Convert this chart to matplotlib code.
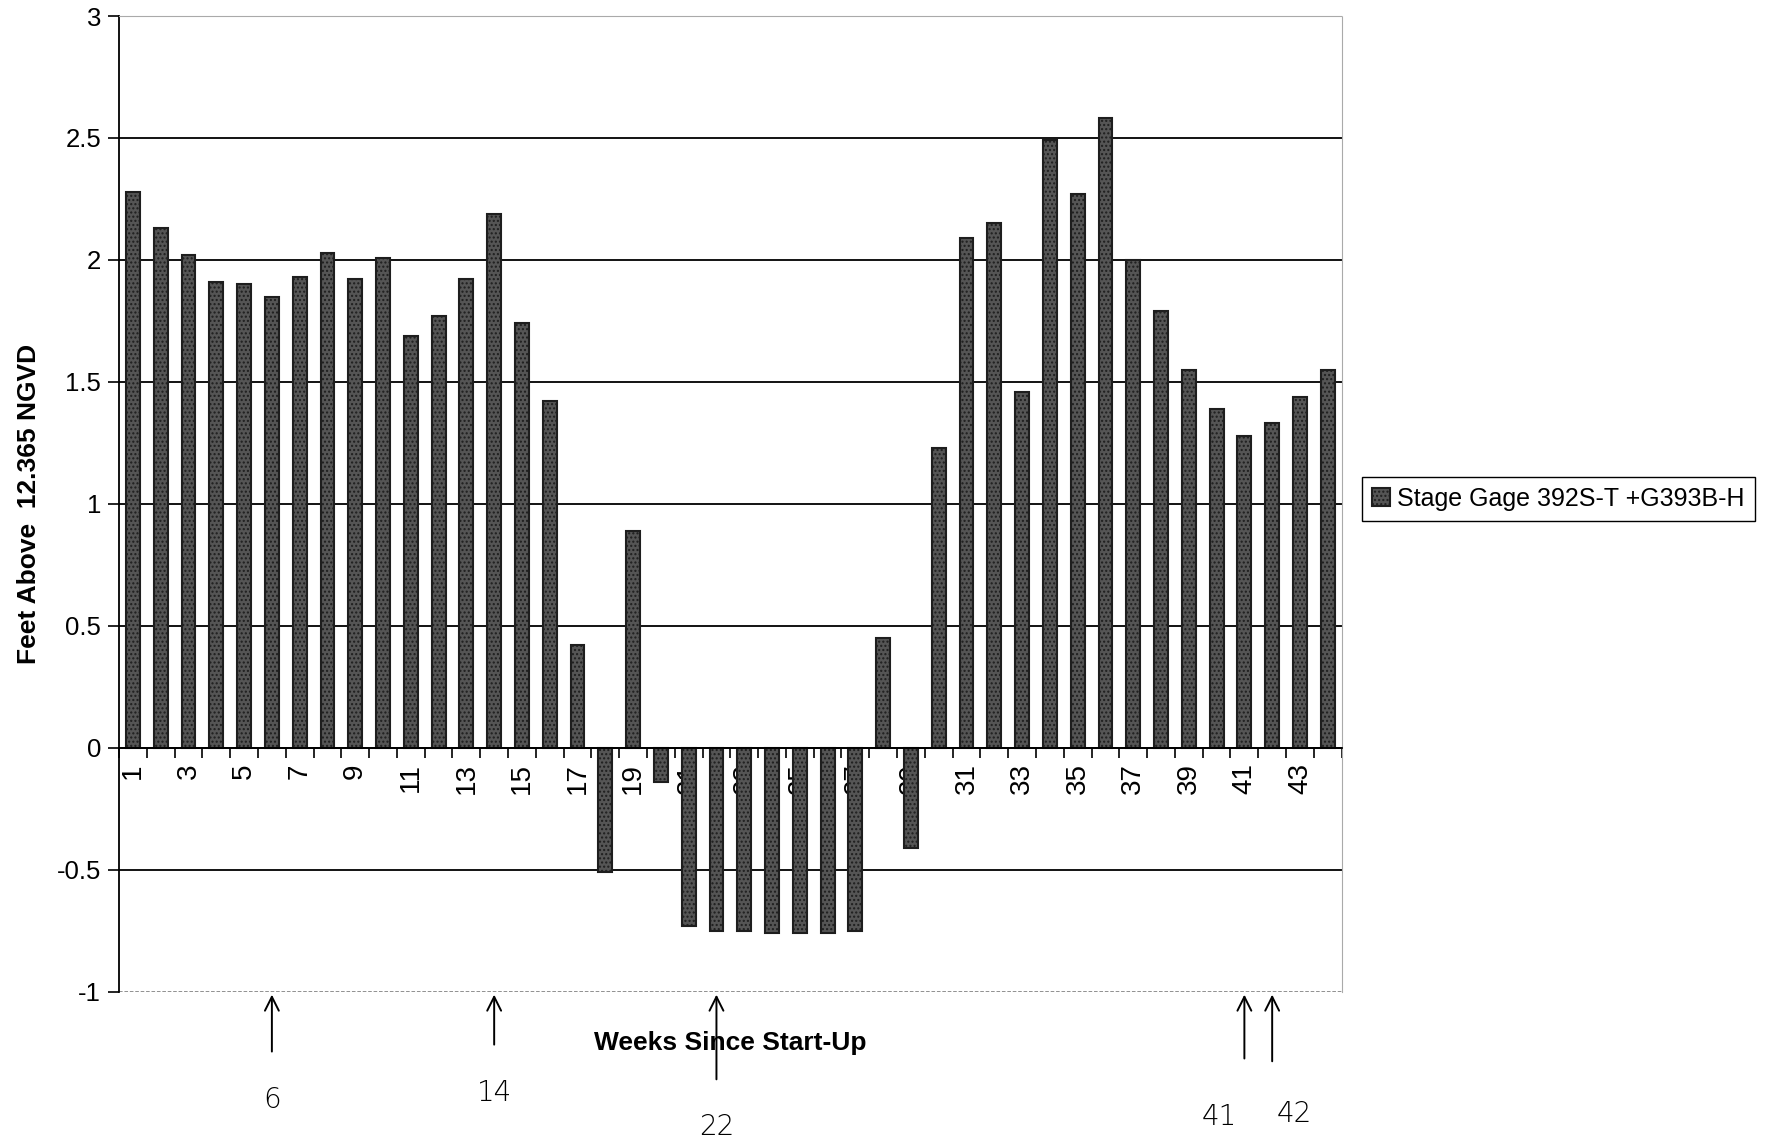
import numpy as np
import matplotlib
matplotlib.use("Agg")
import matplotlib.pyplot as plt

plt.rcParams['font.family'] = ['Liberation Sans', 'DejaVu Sans']

# ----
# Data
# ----
weeks = list(range(1, 45))
stage = [2.28, 2.13, 2.02, 1.91, 1.90, 1.85, 1.93, 2.03, 1.92, 2.01,
         1.69, 1.77, 1.92, 2.19, 1.74, 1.42, 0.42, -0.51, 0.89, -0.14,
         -0.73, -0.75, -0.75, -0.76, -0.76, -0.76, -0.75, 0.45, -0.41, 1.23,
         2.09, 2.15, 1.46, 2.49, 2.27, 2.58, 2.00, 1.79, 1.55, 1.39,
         1.28, 1.33, 1.44, 1.55]
series_name = "Stage Gage 392S-T +G393B-H"
y_ticks = [-1, -0.5, 0, 0.5, 1, 1.5, 2, 2.5, 3]
y_ticklabels = ["-1", "-0.5", "0", "0.5", "1", "1.5", "2", "2.5", "3"]
marked_weeks = [6, 14, 22, 41, 42]

# ------
# Figure
# ------
fig = plt.figure(figsize=(17.77, 11.44), dpi=100)
ax = fig.add_axes([0.067, 0.133, 0.688, 0.853])

ax.set_axisbelow(True)
bars = ax.bar(weeks, stage, width=0.5, color='#555555', edgecolor='#1e1e1e',
              linewidth=1.5, hatch='....', label=series_name, zorder=2)

ax.set_xlim(0.5, len(weeks) + 0.5)
ax.set_ylim(-1, 3)

# y axis
ax.set_yticks(y_ticks)
ax.set_yticklabels(y_ticklabels)
ax.tick_params(axis='y', direction='out', length=8, width=1.2, pad=5,
               labelsize=18.5, color='black')
ax.yaxis.grid(True, color='black', linewidth=1.3)
grid = ax.get_ygridlines()
grid[0].set_color('#888888')
grid[0].set_linestyle((0, (2, 1)))
grid[-1].set_color('#999999')
grid[-1].set_linestyle((0, (2, 1)))

# category axis crossing at zero
ax.spines['bottom'].set_position(('data', 0))
ax.spines['bottom'].set_linewidth(1.3)
ax.spines['left'].set_linewidth(1.3)
for side in ['top', 'right']:
    ax.spines[side].set_color('#aaaaaa')
    ax.spines[side].set_linestyle((0, (2, 1)))
ax.set_xticks(weeks)
ax.set_xticklabels([str(w) if w % 2 == 1 else "" for w in weeks],
                   rotation=90, fontsize=20)
ax.tick_params(axis='x', which='major', length=0, pad=11)
ax.set_xticks(np.arange(0.5, len(weeks) + 1, 1), minor=True)
ax.tick_params(axis='x', which='minor', direction='out', length=7, width=1.2)

ax.set_ylabel("Feet Above  12.365 NGVD", fontsize=19, fontweight='bold',
              labelpad=11)
ax.text(0.5, -0.04, "Weeks Since Start-Up", transform=ax.transAxes,
        ha='center', va='top', fontsize=19, fontweight='bold')

# hand-marked weeks below the plot
label_offsets = {6: (0, -68), 14: (0, -63), 22: (0, -87), 41: (-18, -80), 42: (16, -78)}
arrow_len = {6: -45, 14: -40, 22: -65, 41: -50, 42: -52}
for w in marked_weeks:
    ax.annotate("", xy=(w, -1), xycoords='data',
                xytext=(0, arrow_len[w]), textcoords='offset points',
                arrowprops=dict(arrowstyle='->', color='black', lw=1.4,
                                mutation_scale=25))
    dx, dy = label_offsets[w]
    ax.annotate(str(w), xy=(w, -1), xycoords='data',
                xytext=(dx, dy), textcoords='offset points',
                ha='center', va='top', fontsize=20, family='DejaVu Sans',
                fontweight='light')

fig.legend(handles=[bars], labels=[series_name], loc='center left',
           bbox_to_anchor=(0.7665, 0.564), borderaxespad=0, fontsize=18,
           fancybox=False, edgecolor='black', framealpha=1,
           handlelength=0.7, handleheight=0.7, handletextpad=0.3,
           borderpad=0.4)

fig.savefig("out.png", dpi=100)
